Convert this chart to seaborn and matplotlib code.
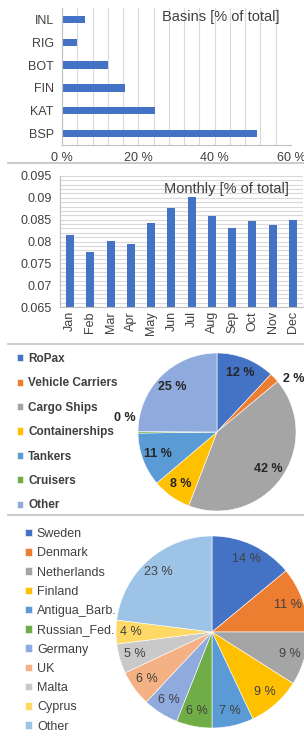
import matplotlib
matplotlib.use('Agg')
import matplotlib.pyplot as plt
import seaborn as sns
import pandas as pd
import numpy as np
from matplotlib.lines import Line2D
from matplotlib.ticker import MultipleLocator, FuncFormatter

# ---- data ----
basins = ['INL', 'RIG', 'BOT', 'FIN', 'KAT', 'BSP']
basin_share = [5.9, 3.8, 12.0, 16.4, 24.4, 51.2]

months = ['Jan', 'Feb', 'Mar', 'Apr', 'May', 'Jun',
          'Jul', 'Aug', 'Sep', 'Oct', 'Nov', 'Dec']
monthly_share = [0.0814, 0.0777, 0.0802, 0.0794, 0.0842, 0.0877,
                 0.0903, 0.0859, 0.0830, 0.0848, 0.0838, 0.0850]

ship_types = ['RoPax', 'Vehicle Carriers', 'Cargo Ships', 'Containerships',
              'Tankers', 'Cruisers', 'Other']
ship_share = [12, 2, 42, 8, 11, 0.3, 25]
ship_colors = ['#4472C4', '#ED7D31', '#A5A5A5', '#FFC000',
               '#5B9BD5', '#70AD47', '#8FAADC']

flags = ['Sweden', 'Denmark', 'Netherlands', 'Finland', 'Antigua_Barb.',
         'Russian_Fed.', 'Germany', 'UK', 'Malta', 'Cyprus', 'Other']
flag_share = [14, 11, 9, 9, 7, 6, 6, 6, 5, 4, 23]
flag_colors = ['#4472C4', '#ED7D31', '#A5A5A5', '#FFC000', '#5B9BD5',
               '#70AD47', '#8FAADC', '#F4B183', '#C9C9C9', '#FFD966', '#9DC3E6']

BLUE = '#4472C4'
TXT = '#404040'
GRID = '#D9D9D9'

sns.set_theme(style='white')
plt.rcParams['font.family'] = ['Liberation Sans', 'DejaVu Sans']

W, H = 304, 738
fig = plt.figure(figsize=(W / 100, H / 100), dpi=100)


def rect(l, t, r, b):
    # pixel box -> figure fraction
    return [l / W, 1 - b / H, (r - l) / W, (b - t) / H]


# ---- basins, horizontal bars ----
ax1 = fig.add_axes(rect(62, 8, 291, 145))
df_b = pd.DataFrame({'basin': basins, 'share': basin_share})
sns.barplot(data=df_b, x='share', y='basin', orient='h', color=BLUE,
            width=0.32, linewidth=0, saturation=1, ax=ax1)
ax1.set_xlim(0, 60)
ax1.xaxis.set_major_locator(MultipleLocator(20))
ax1.xaxis.set_minor_locator(MultipleLocator(4))
ax1.xaxis.set_major_formatter(FuncFormatter(lambda v, p: f'{v:.0f} %'))
ax1.grid(which='both', axis='x', color=GRID, lw=0.8)
ax1.set_axisbelow(True)
ax1.set_xlabel('')
ax1.set_ylabel('')
for s in ['top', 'right']:
    ax1.spines[s].set_visible(False)
for s in ['left', 'bottom']:
    ax1.spines[s].set_color('#BFBFBF')
    ax1.spines[s].set_linewidth(0.8)
ax1.tick_params(axis='x', which='major', labelsize=9, labelcolor=TXT,
                length=3, color='#BFBFBF', pad=2)
ax1.tick_params(axis='x', which='minor', length=0)
ax1.tick_params(axis='y', labelsize=9, labelcolor=TXT, length=0, pad=6)
ax1.text(0.95, 0.934, 'Basins [% of total]', transform=ax1.transAxes,
         ha='right', va='center', fontsize=10.5, color=TXT)

# ---- monthly, vertical bars ----
ax2 = fig.add_axes(rect(60, 176, 303, 307))
sns.barplot(x=months, y=monthly_share, color=BLUE, width=0.4,
            linewidth=0, saturation=1, ax=ax2)
ax2.set_ylim(0.065, 0.095)
ax2.yaxis.set_major_locator(MultipleLocator(0.005))
ax2.yaxis.set_minor_locator(MultipleLocator(0.001))
ax2.yaxis.set_major_formatter(
    FuncFormatter(lambda v, p: f'{v:.3f}'.rstrip('0').rstrip('.')))
ax2.grid(which='both', axis='y', color=GRID, lw=0.8)
ax2.set_axisbelow(True)
for s in ['top', 'right']:
    ax2.spines[s].set_visible(False)
for s in ['left', 'bottom']:
    ax2.spines[s].set_color('#BFBFBF')
    ax2.spines[s].set_linewidth(0.8)
ax2.tick_params(axis='y', which='major', labelsize=9, labelcolor=TXT,
                length=3, color='#BFBFBF', pad=3)
ax2.tick_params(axis='y', which='minor', length=0)
ax2.tick_params(axis='x', labelsize=9, labelcolor=TXT, length=0,
                rotation=90, pad=3)
ax2.text(0.94, 0.9, 'Monthly [% of total]', transform=ax2.transAxes,
         ha='right', va='center', fontsize=10.5, color=TXT)


def pie_labels(ax, wedges, values, dist, out_dist, cut, **kw):
    for w, v in zip(wedges, values):
        mid = (w.theta1 + w.theta2) / 2
        if v >= cut:
            d = dist
        else:
            # small slices: label outside, nudged clockwise like Excel does
            d = out_dist
            mid -= 9
        ang = np.deg2rad(mid)
        ax.text(d * np.cos(ang), d * np.sin(ang), f'{v:.0f} %',
                ha='center', va='center', **kw)


# ---- ship types pie ----
ax3 = fig.add_axes(rect(138, 353, 296, 511))
w3, _ = ax3.pie(ship_share, colors=ship_colors, startangle=90,
                counterclock=False,
                wedgeprops=dict(edgecolor='white', linewidth=0.4))
ax3.set_xlim(-1, 1)
ax3.set_ylim(-1, 1)
ax3.set_aspect('equal')
pie_labels(ax3, w3, ship_share, 0.8, 1.18, 3, fontsize=9,
           fontweight='bold', color='#262626')
fig.legend(w3, ship_types, loc='upper left',
           bbox_to_anchor=(17 / W, 1 - 353 / H), frameon=False,
           borderpad=0, borderaxespad=0, handlelength=0.55,
           handleheight=0.55, handletextpad=0.4, labelspacing=1.05,
           prop=dict(size=8.5, weight='bold'), labelcolor=TXT)

# ---- flags pie ----
ax4 = fig.add_axes(rect(116, 536, 308, 728))
w4, _ = ax4.pie(flag_share, colors=flag_colors, startangle=90,
                counterclock=False,
                wedgeprops=dict(edgecolor='white', linewidth=0.4))
ax4.set_xlim(-1, 1)
ax4.set_ylim(-1, 1)
ax4.set_aspect('equal')
pie_labels(ax4, w4, flag_share, 0.84, 0.84, 0, fontsize=9, color=TXT)
fig.legend(w4, flags, loc='upper left',
           bbox_to_anchor=(25 / W, 1 - 528 / H), frameon=False,
           borderpad=0, borderaxespad=0, handlelength=0.55,
           handleheight=0.55, handletextpad=0.4, labelspacing=0.58,
           prop=dict(size=9), labelcolor=TXT)

# ---- panel separators ----
for y in [163, 344, 515]:
    fig.add_artist(Line2D([8 / W, 1], [1 - y / H] * 2,
                          color='#CCCCCC', lw=1.5))

fig.savefig('out.png', dpi=100)
